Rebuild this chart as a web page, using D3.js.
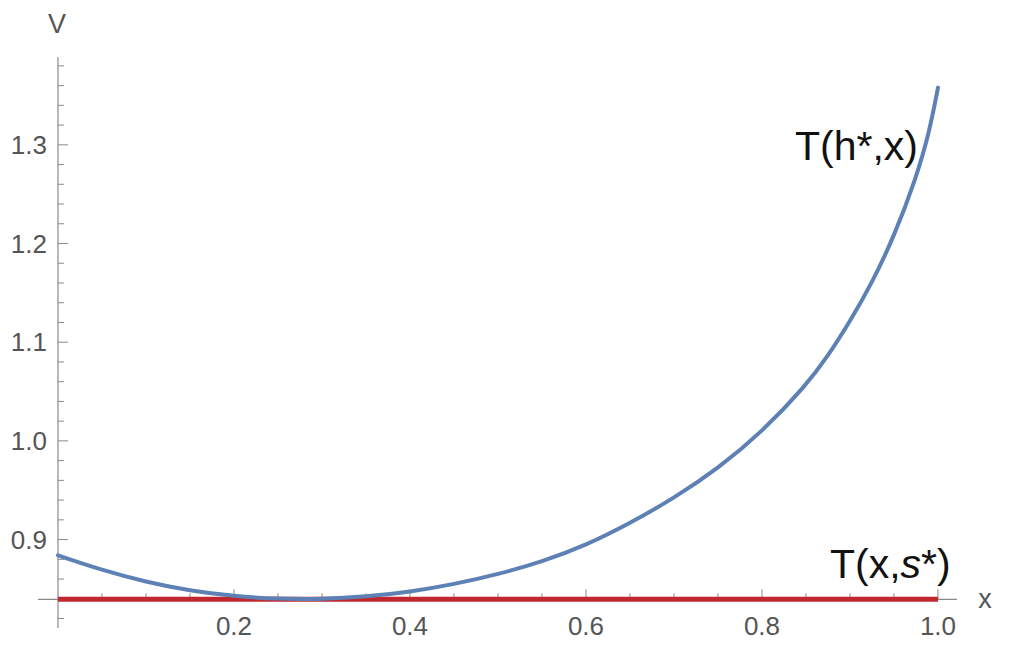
<!DOCTYPE html>
<html>
<head>
<meta charset="utf-8">
<script src="https://cdn.jsdelivr.net/npm/d3@7"></script>
<style>
  body { margin: 0; background: #fff; }
  text { font-family: "Liberation Sans", Arial, sans-serif; }
</style>
</head>
<body>
<div id="chart"></div>
<script>
// values
var xVals = [0, 0.05, 0.1, 0.15, 0.2, 0.25, 0.3, 0.35, 0.4, 0.45, 0.5, 0.55, 0.6, 0.65, 0.7, 0.75, 0.8, 0.85, 0.875, 0.9, 0.925, 0.95, 0.975, 0.99, 1.0];
var hStarVals = [0.884, 0.869, 0.857, 0.848, 0.8425, 0.8398, 0.8395, 0.8422, 0.8469, 0.8547, 0.8648, 0.8775, 0.8942, 0.9165, 0.942, 0.972, 1.009, 1.056, 1.086, 1.121, 1.160, 1.207, 1.266, 1.312, 1.358];
var sStarVal = 0.8395;   // T(x,s*) is flat
var xTicks = [0.2, 0.4, 0.6, 0.8, 1.0];
var yTicks = [0.9, 1.0, 1.1, 1.2, 1.3];

var width = 1017,
    height = 646;

var svg = d3.select("#chart").append("svg")
  .attr("width", width)
  .attr("height", height);

// axis lines run a bit past the data like mathematica does
var x = d3.scaleLinear().domain([-0.0227, 1.0216]).range([38, 957]);
var y = d3.scaleLinear().domain([0.8104, 1.389]).range([628, 57]);

var axisColor = "#8a8a8a",
    labelColor = "#555";

// minor ticks
var xMinor = d3.range(1, 21).map(function(i){ return i * 0.05; });
var yMinor = d3.range(41, 70).map(function(i){ return i * 0.02; });

var axes = svg.append("g");

axes.selectAll(".xminor")
  .data(xMinor)
  .enter()
  .append("line")
  .attr("x1", function(d){ return x(d); })
  .attr("x2", function(d){ return x(d); })
  .attr("y1", y(sStarVal))
  .attr("y2", function(d){
    var major = Math.abs(d * 5 - Math.round(d * 5)) < 1e-6;
    return y(sStarVal) - (major ? 10 : 6);
  })
  .style("stroke", axisColor)
  .style("stroke-width", 1);

axes.selectAll(".yminor")
  .data(yMinor)
  .enter()
  .append("line")
  .attr("x1", x(0))
  .attr("x2", function(d){
    var major = Math.abs(d * 10 - Math.round(d * 10)) < 1e-6;
    return x(0) + (major ? 10 : 6);
  })
  .attr("y1", function(d){ return y(d); })
  .attr("y2", function(d){ return y(d); })
  .style("stroke", axisColor)
  .style("stroke-width", 1);

// the two axis lines
axes.append("line")
  .attr("x1", x.range()[0]).attr("x2", x.range()[1])
  .attr("y1", y(sStarVal)).attr("y2", y(sStarVal))
  .style("stroke", axisColor).style("stroke-width", 1.2);
axes.append("line")
  .attr("x1", x(0)).attr("x2", x(0))
  .attr("y1", y.range()[0]).attr("y2", y.range()[1])
  .style("stroke", axisColor).style("stroke-width", 1.2);

// tick labels
axes.selectAll(".xlab")
  .data(xTicks)
  .enter()
  .append("text")
  .attr("x", function(d){ return x(d); })
  .attr("y", 635)
  .style("text-anchor", "middle")
  .style("font-size", "26px")
  .style("fill", labelColor)
  .text(function(d){ return d.toFixed(1); });

axes.selectAll(".ylab")
  .data(yTicks)
  .enter()
  .append("text")
  .attr("x", 47)
  .attr("y", function(d){ return y(d); })
  .attr("dy", "0.35em")
  .style("text-anchor", "end")
  .style("font-size", "26px")
  .style("fill", labelColor)
  .text(function(d){ return d.toFixed(1); });

// axis names
axes.append("text")
  .attr("x", 57).attr("y", 33)
  .style("text-anchor", "middle")
  .style("font-size", "27px")
  .style("fill", labelColor)
  .text("V");
axes.append("text")
  .attr("x", 985).attr("y", 608)
  .style("text-anchor", "middle")
  .style("font-size", "27px")
  .style("fill", labelColor)
  .text("x");

// curves
var hStarData = xVals.map(function(v, k){ return {x: v, y: hStarVals[k]}; });
var sStarData = [{x: 0, y: sStarVal}, {x: 1, y: sStarVal}];

var line = d3.line()
  .curve(d3.curveBasis)
  .x(function(d){ return x(d.x); })
  .y(function(d){ return y(d.y); });

svg.append("path")
  .datum(sStarData)
  .attr("d", line)
  .style("fill", "none")
  .style("stroke", "#c0282e")
  .style("stroke-width", 5);

svg.append("path")
  .datum(hStarData)
  .attr("d", line)
  .style("fill", "none")
  .style("stroke", "#5e81b5")
  .style("stroke-width", 4)
  .style("stroke-linecap", "round");

// curve labels
svg.append("text")
  .attr("x", 795).attr("y", 160)
  .style("font-size", "41px")
  .style("fill", "#111")
  .text("T(h*,x)");

var sLab = svg.append("text")
  .attr("x", 830).attr("y", 578)
  .style("font-size", "41px")
  .style("fill", "#111");
sLab.append("tspan").text("T(x,");
sLab.append("tspan").style("font-style", "italic").text("s");
sLab.append("tspan").text("*)");
</script>
</body>
</html>
